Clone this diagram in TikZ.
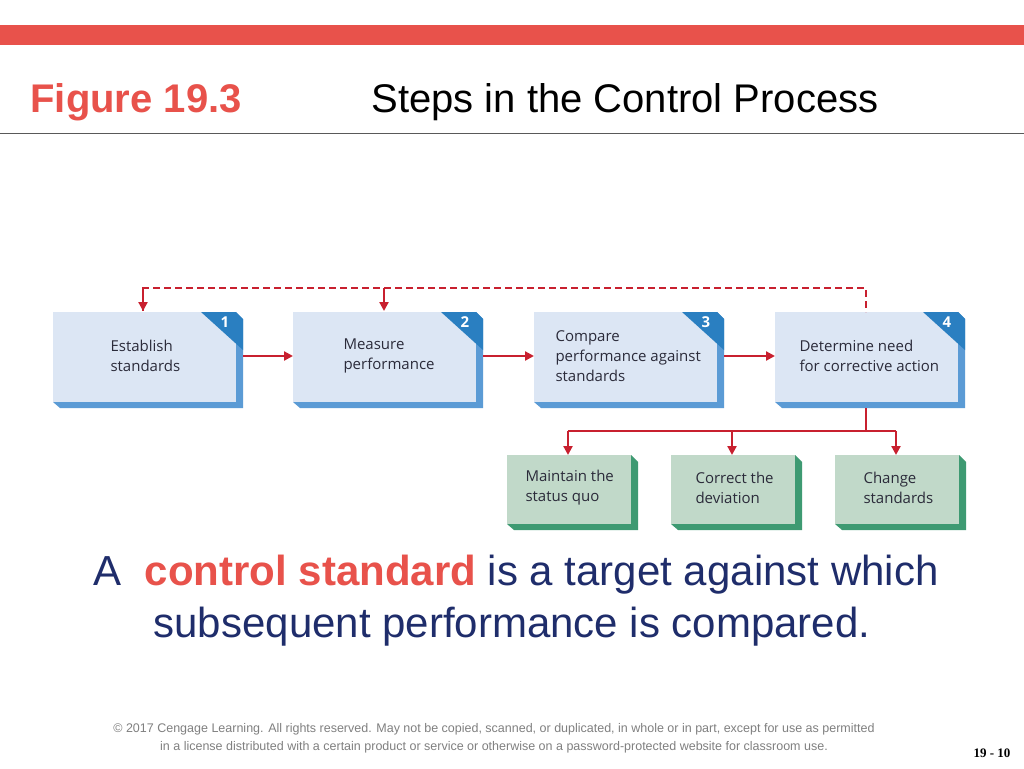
\documentclass[tikz,border=0pt]{standalone}
\usepackage{fontspec}
\setmainfont{Liberation Sans}
\newfontfamily\boxfont{Open Sans}
\newfontfamily\pgfont{Liberation Serif}
\usetikzlibrary{arrows.meta}
\definecolor{topred}{HTML}{E8524B}
\definecolor{arrred}{HTML}{C8202F}
\definecolor{bface}{HTML}{DCE6F4}
\definecolor{bside}{HTML}{5B9BD5}
\definecolor{bcorner}{HTML}{2A7FC1}
\definecolor{gface}{HTML}{C1D9C9}
\definecolor{gside}{HTML}{3E9A72}
\definecolor{navy}{HTML}{1F2D6B}
\definecolor{txt}{HTML}{2B2B3A}
\tikzset{
  arr/.style={draw=arrred,line width=2.2pt,-{Triangle[length=9pt,width=9pt]}},
  ln/.style={draw=arrred,line width=2.2pt},
  dsh/.style={draw=arrred,line width=2.2pt,dash pattern=on 7pt off 4pt},
  btxt/.style={anchor=west,align=left,font=\boxfont\fontsize{15}{20}\selectfont,text=txt},
}
\newcommand{\bluebox}[5]{% name x y text number
  \fill[bside] (#2+7,#3+7) -- (#2+190,#3+7) -- (#2+190,#3+96) -- (#2+7,#3+96) -- (#2,#3+90) -- (#2+183,#3+90) -- (#2+183,#3) -- cycle;
  \fill[bface] (#2,#3) rectangle (#2+183,#3+90);
  \fill[bcorner] (#2+148,#3) -- (#2+183,#3) -- (#2+190,#3+7) -- (#2+190,#3+40) -- cycle;
  \node[font=\boxfont\bfseries\fontsize{15}{15}\selectfont,text=white] at (#2+173,#3+11) {#5};
  \coordinate (#1) at (#2+91,#3+45);
  \coordinate (#1t) at (#2+91,#3);
  \coordinate (#1b) at (#2+95,#3+96);
  \coordinate (#1l) at (#2,#3+45);
  \coordinate (#1r) at (#2+190,#3+45);
  \node[btxt] (#1x) at (#2+#4) ;
}
\begin{document}
\begin{tikzpicture}[x=1pt,y=-1pt]
\useasboundingbox (0,0) rectangle (1024,768);
\fill[white] (0,0) rectangle (1024,768);
\fill[topred] (0,25) rectangle (1024,45);
\node[anchor=base west,font=\bfseries\fontsize{40}{40}\selectfont,text=topred] (fig) at (27,112) {Figure 19.3};
\node[anchor=base west,font=\fontsize{40}{40}\selectfont,text=black] (ttl) at (368,112) {Steps in the Control Process};
\draw[gray!70!black,line width=1pt] (0,133) -- (1024,133);

% blue boxes
\foreach \n/\x/\num in {b1/53/1,b2/293/2,b3/534/3,b4/775/4}{
  \fill[bside] (\x+7,408) -- (\x,402) -- (\x+183,402) -- (\x+183,312) -- (\x+190,319) -- (\x+190,408) -- cycle;
  \fill[bface] (\x,312) rectangle (\x+183,402);
  \fill[bcorner] (\x+148,312) -- (\x+183,312) -- (\x+190,319) -- (\x+190,350) -- cycle;
  \node[font=\boxfont\bfseries\fontsize{15}{15}\selectfont,text=white] (\n n) at (\x+172,322) {\num};
  \coordinate (\n l) at (\x,356);
  \coordinate (\n r) at (\x+190,356);
}
\node[btxt] (t1) at (107,356) {Establish\\standards};
\node[btxt] (t2) at (340,356) {Measure\\performance};
\node[btxt] (t3) at (552,356) {Compare\\performance against\\standards};
\node[btxt] (t4) at (796,356) {Determine need\\for corrective action};

% green boxes
\foreach \n/\x in {g1/507,g2/671,g3/835}{
  \fill[gside] (\x+7,530) -- (\x,524) -- (\x+124,524) -- (\x+124,455) -- (\x+131,462) -- (\x+131,530) -- cycle;
  \fill[gface] (\x,455) rectangle (\x+124,524);
}
\node[btxt] (u1) at (522,488) {Maintain the\\status quo};
\node[btxt] (u2) at (692,488) {Correct the\\deviation};
\node[btxt] (u3) at (860,488) {Change\\standards};

% coordinates
\coordinate (d1) at (143,288); \coordinate (d1e) at (143,311);
\coordinate (d2) at (384,288); \coordinate (d2e) at (384,311);
\coordinate (d4) at (866,288); \coordinate (d4e) at (866,312);
\coordinate (s4) at (866,408); \coordinate (sj) at (866,431);
\coordinate (h1) at (568,431); \coordinate (h3) at (896,431);
\coordinate (h2) at (732,431);
\coordinate (g1t) at (568,455); \coordinate (g2t) at (732,455); \coordinate (g3t) at (896,455);

\draw[dsh] (d1e) -- (d1) -- (d4) -- (d4e);
\draw[arr] (d1) -- (d1e);
\draw[arr] (d2) -- (d2e);
\draw[arr] (b1r) -- (b2l);
\draw[arr] (b2r) -- (b3l);
\draw[arr] (b3r) -- (b4l);
\draw[ln] (s4) -- (sj);
\draw[ln] (h1) -- (h3);
\draw[arr] (h1) -- (g1t);
\draw[arr] (h2) -- (g2t);
\draw[arr] (h3) -- (g3t);

% main statement
\node[anchor=base,font=\fontsize{42}{42}\selectfont,text=navy] (s1) at (516,585) {A\ \ \textcolor{topred}{\bfseries control standard} is a target against which};
\node[anchor=base,font=\fontsize{42}{42}\selectfont,text=navy] (s2) at (512,637) {subsequent performance is compared.};

% footer
\node[anchor=base,font=\fontsize{12.5}{12.5}\selectfont,text=gray] (f1) at (494,732) {\textcopyright{} 2017 Cengage Learning. All rights reserved. May not be copied, scanned, or duplicated, in whole or in part, except for use as permitted};
\node[anchor=base,font=\fontsize{12.5}{12.5}\selectfont,text=gray] (f2) at (494,750) {in a license distributed with a certain product or service or otherwise on a password-protected website for classroom use.};
\node[anchor=base east,font=\pgfont\bfseries\fontsize{13}{13}\selectfont,text=black] (pg) at (1014,757) {19 - 10};
\end{tikzpicture}
\end{document}
